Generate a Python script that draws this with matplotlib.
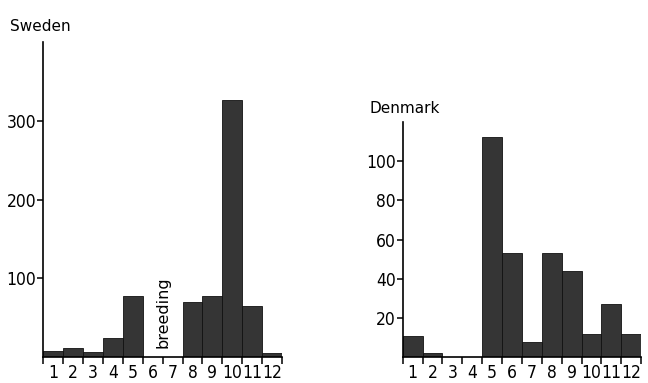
import numpy as np
import matplotlib.pyplot as plt

# Monthly counts
months = [str(m) for m in range(1, 13)]
sweden = [8, 12, 6, 24, 77, 0, 0, 70, 78, 327, 65, 5]
denmark = [11, 2, 0, 0, 112, 53, 8, 53, 44, 12, 27, 12]

BAR_COLOR = '#353535'
plt.rcParams['font.family'] = ['DejaVu Sans']
plt.rcParams['font.stretch'] = 'condensed'


def draw_panel(ax, values, ymax, yticks, title):
    x = np.arange(len(values))
    ax.bar(x + 0.5, values, width=1.0, color=BAR_COLOR, edgecolor='#111111',
           linewidth=0.6)
    ax.set_xlim(0, len(values))
    ax.set_ylim(0, ymax)
    for side in ('top', 'right'):
        ax.spines[side].set_visible(False)
    for side in ('left', 'bottom'):
        ax.spines[side].set_linewidth(1.2)
    # tick marks on the bin edges, labels in the bin centres
    ax.set_xticks(np.arange(len(values) + 1))
    ax.set_xticklabels([])
    ax.set_xticks(x + 0.5, minor=True)
    ax.set_xticklabels(months, minor=True)
    ax.tick_params(axis='x', which='major', direction='out', length=5, width=1.1)
    ax.tick_params(axis='x', which='minor', length=0, pad=5, labelsize=12.5)
    ax.set_yticks(yticks)
    ax.tick_params(axis='y', direction='out', length=4, width=1.1, pad=1,
                   labelsize=12.5)
    ax.text(-0.14, 1.025, title, transform=ax.transAxes, fontsize=11,
            fontstretch='normal', ha='left', va='bottom')


fig = plt.figure(figsize=(6.48, 3.83), dpi=100)
ax1 = fig.add_axes([0.0664, 0.068, 0.369, 0.822])
ax2 = fig.add_axes([0.6214, 0.067, 0.368, 0.615])

draw_panel(ax1, sweden, 400, [100, 200, 300], 'Sweden')
draw_panel(ax2, denmark, 120, [20, 40, 60, 80, 100], 'Denmark')

ax1.text(6.0, 57, 'breeding', rotation=90, ha='center', va='center',
         fontsize=11.5, fontstretch='normal')

fig.savefig('out.png', dpi=100)
